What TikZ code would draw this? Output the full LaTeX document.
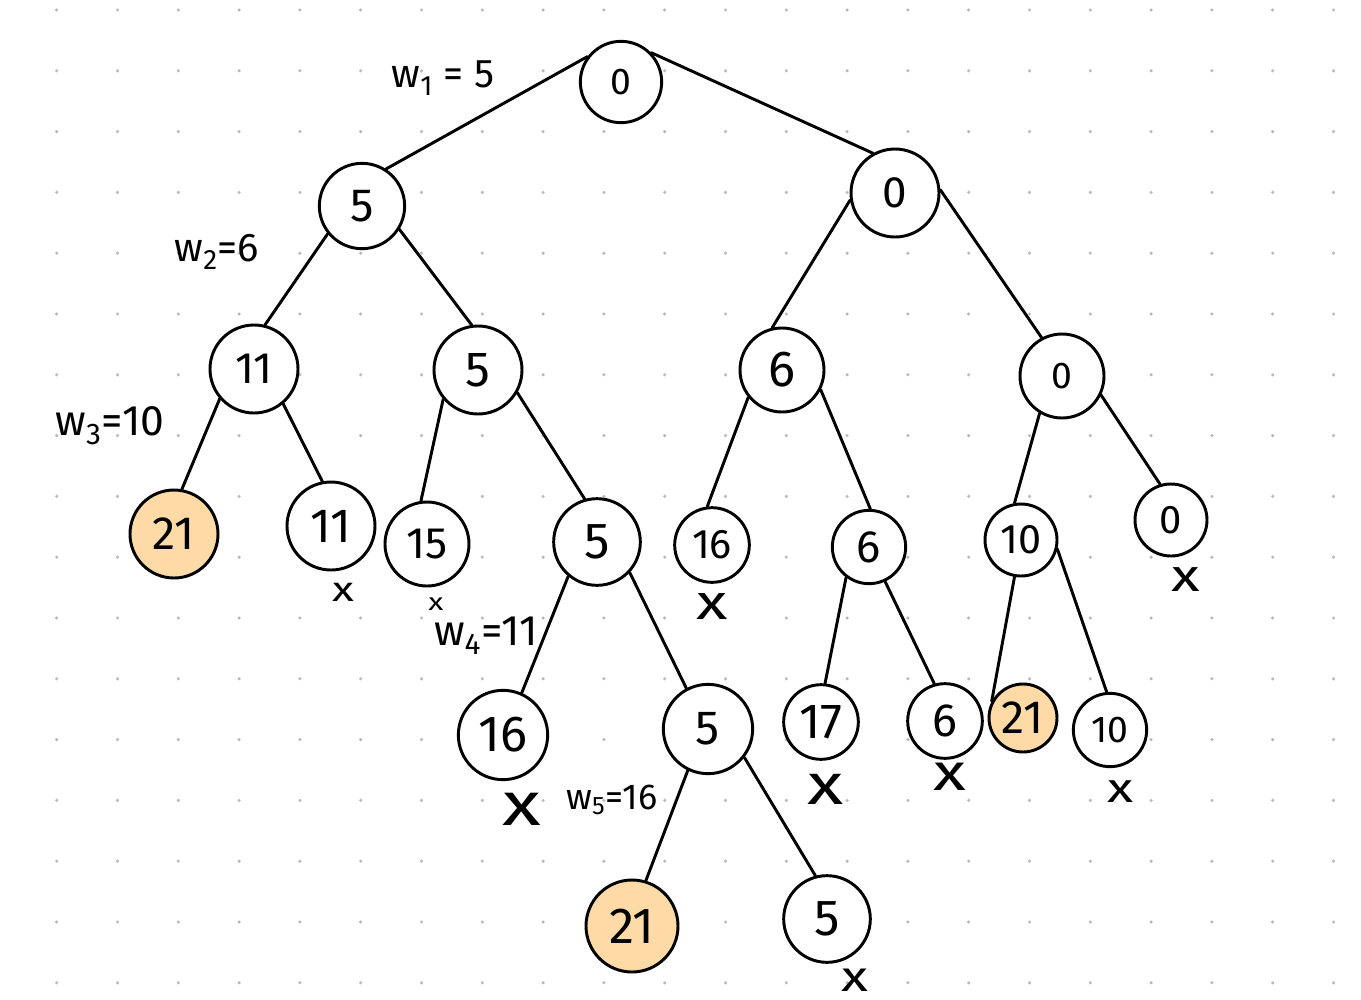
\documentclass[tikz,border=0pt]{standalone}
\usepackage{graphicx}
\usepackage{fontspec}
\setmainfont{Fira Sans}
\definecolor{peach}{RGB}{254,218,166}
\definecolor{dotgray}{RGB}{185,185,185}
\newcommand{\xmk}{\scalebox{1.3}[1]{x}}
\begin{document}
\begin{tikzpicture}[x=0.75pt,y=-0.75pt,
 nd/.style={circle,draw,line width=2.2pt,fill=white,inner sep=0pt,minimum size=#1},
 hl/.style={fill=peach},
 fs/.style={font=\fontsize{#1}{#1}\selectfont},
 edge/.style={line width=2.2pt,line cap=round},
 lbl/.style={inner sep=0pt,font=\fontsize{#1}{#1}\selectfont},
 xm/.style={inner sep=0pt,font=\fontsize{#1}{#1}\selectfont}]
\useasboundingbox[fill=white] (0,0) rectangle (1361,1000);
\foreach \i in {0,...,21}
  \foreach \j in {0,...,16}
    \fill[dotgray] (56.7+60.8*\i,10+60.8*\j) circle[radius=1.3pt];
% level 0
\node[nd=61pt,fs=28pt] (r) at (621,82) {0};
% level 1
\node[nd=64pt,fs=35pt] (a) at (362,206) {5};
\node[nd=66pt,fs=33pt] (b) at (895,193) {0};
% level 2
\node[nd=66pt,fs=33pt] (aa) at (254,369) {11};
\node[nd=66pt,fs=37pt] (ab) at (478,370) {5};
\node[nd=63pt,fs=38pt] (ba) at (782,370) {6};
\node[nd=63pt,fs=28pt] (bb) at (1062,376) {0};
% level 3
\node[nd=66pt,fs=35pt,hl] (aaa) at (174,534) {21};
\node[nd=66pt,fs=36pt] (aab) at (331,526) {11};
\node[nd=63pt,fs=33pt] (aba) at (427,544) {15};
\node[nd=65pt,fs=38pt] (abb) at (597,542) {5};
\node[nd=56pt,fs=31pt] (baa) at (712,545) {16};
\node[nd=55pt,fs=34pt] (bab) at (869,547) {6};
\node[nd=54pt,fs=31pt] (bba) at (1021,540) {10};
\node[nd=54pt,fs=30pt] (bbb) at (1171,520) {0};
% level 4
\node[nd=67pt,fs=38pt] (abba) at (503,735) {16};
\node[nd=67pt,fs=36pt] (abbb) at (708,729) {5};
\node[nd=56pt,fs=37pt] (baba) at (821,722) {17};
\node[nd=56pt,fs=35pt] (babb) at (945,721) {6};
\node[nd=51pt,fs=35pt,hl] (bbaa) at (1023,718) {21};
\node[nd=55pt,fs=28pt] (bbab) at (1110,730) {10};
% level 5
\node[nd=69pt,fs=38pt,hl] (abbba) at (632,926) {21};
\node[nd=65pt,fs=38pt] (abbbb) at (827,919) {5};
% edges
\draw[edge] (r.143) -- (a.57);
\draw[edge] (r.44) -- (b.119);
\draw[edge] (a.219) -- (aa.76);
\draw[edge] (a.328) -- (ab.98);
\draw[edge] (b.189) -- (ba.103);
\draw[edge] (b.4) -- (bb.118);
\draw[edge] (aa.221) -- (aaa.80);
\draw[edge] (aa.310) -- (aab.101);
\draw[edge] (ab.220) -- (aba.98);
\draw[edge] (ab.330) -- (abb.106);
\draw[edge] (ba.219) -- (baa.97);
\draw[edge] (ba.333) -- (bab.88);
\draw[edge] (bb.239) -- (bba.100);
\draw[edge] (bb.334) -- (bbb.107);
\draw[edge] (abb.230) -- (abba.66);
\draw[edge] (abb.317) -- (abbb.118);
\draw[edge] (bab.233) -- (baba.84);
\draw[edge] (bab.295) -- (babb.106);
\draw[edge] (bba.260) -- (bbaa.152);
\draw[edge] (bba.346) -- (bbab.95);
\draw[edge] (abbb.244) -- (abbba.73);
\draw[edge] (abbb.322) -- (abbbb.105);
% weight labels
\node[lbl=30pt] (w1) at (443,78) {w\textsubscript{1} = 5};
\node[lbl=30pt] (w2) at (217,252) {w\textsubscript{2}=6};
\node[lbl=32pt] (w3) at (110,426) {w\textsubscript{3}=10};
\node[lbl=32pt] (w4) at (486,636) {w\textsubscript{4}=11};
\node[lbl=27pt] (w5) at (612,800) {w\textsubscript{5}=16};
% pruned marks
\node[xm=26pt] (x1) at (343,592) {\xmk};
\node[xm=18pt] (x2) at (436,604) {\xmk};
\node[xm=37pt] (x3) at (712,606) {\xmk};
\node[xm=34pt] (x4) at (1186,580) {\xmk};
\node[xm=46pt] (x5) at (522,809) {\xmk};
\node[xm=43pt] (x6) at (826,789) {\xmk};
\node[xm=39pt] (x7) at (950,777) {\xmk};
\node[xm=31pt] (x8) at (1121,792) {\xmk};
\node[xm=32pt] (x9) at (855,980) {\xmk};
\end{tikzpicture}
\end{document}
